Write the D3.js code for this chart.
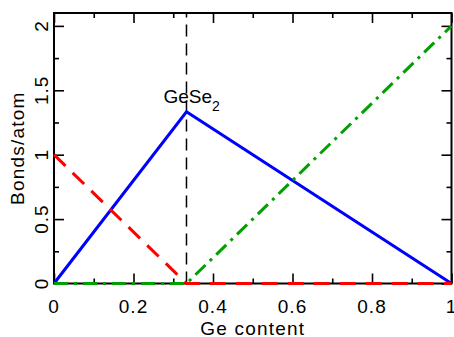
<!DOCTYPE html>
<html>
<head>
<meta charset="utf-8">
<script src="https://cdn.jsdelivr.net/npm/d3@7"></script>
<style>
  body { margin: 0; background: #fff; }
  svg { display: block; }
  text { font-family: "Liberation Sans", Arial, sans-serif; }
</style>
</head>
<body>
<svg id="chart" width="454" height="337"></svg>
<script>
// Ge content along x, bonds per atom along y
const geContent = [0, 0.3333, 1];
const blueBonds = [0, 1.3333, 0];
const redBonds = [1, 0, 0];
const greenBonds = [0, 0, 2];

const xTicks = [0, 0.2, 0.4, 0.6, 0.8, 1];
const xMinor = [0.1, 0.3, 0.5, 0.7, 0.9];
const yTicks = [0, 0.5, 1, 1.5, 2];
const yMinor = [0.25, 0.75, 1.25, 1.75];

const markerX = 0.3333;
const markerLabel = 'GeSe';
const markerSub = '2';
const markerLabelY = 1.4;

const svg = d3.select('#chart');
const width = 454;
const height = 337;
const margin = { left: 54, right: 2.5, top: 13, bottom: 53.5 };

const x = d3.scaleLinear()
  .domain([0, 1])
  .range([margin.left, width - margin.right]);
const y = d3.scaleLinear()
  .domain([0, 2.1])
  .range([height - margin.bottom, margin.top]);

// inward ticks on all four sides
function tickSet(axisFn, scale, values, size, transform) {
  svg.append('g')
    .attr('transform', transform)
    .call(axisFn(scale).tickValues(values).tickSize(-size).tickSizeOuter(0).tickFormat(''))
    .call(g => g.select('.domain').remove())
    .call(g => g.selectAll('line').attr('stroke', '#000').attr('stroke-width', 1.6));
}

const x0 = x.range()[0];
const x1 = x.range()[1];
const y0 = y.range()[0];
const y1 = y.range()[1];

tickSet(d3.axisBottom, x, xTicks, 10, `translate(0,${y0})`);
tickSet(d3.axisBottom, x, xMinor, 5, `translate(0,${y0})`);
tickSet(d3.axisTop, x, xTicks, 10, `translate(0,${y1})`);
tickSet(d3.axisTop, x, xMinor, 5, `translate(0,${y1})`);
tickSet(d3.axisLeft, y, yTicks, 10, `translate(${x0},0)`);
tickSet(d3.axisLeft, y, yMinor, 5, `translate(${x0},0)`);
tickSet(d3.axisRight, y, yTicks, 10, `translate(${x1},0)`);
tickSet(d3.axisRight, y, yMinor, 5, `translate(${x1},0)`);

svg.append('rect')
  .attr('x', x0)
  .attr('y', y1)
  .attr('width', x1 - x0)
  .attr('height', y0 - y1)
  .attr('fill', 'none')
  .attr('stroke', '#000')
  .attr('stroke-width', 2);

// tick labels
svg.append('g')
  .selectAll('text')
  .data(xTicks)
  .join('text')
  .attr('x', d => x(d))
  .attr('y', y0 + 29)
  .attr('text-anchor', 'middle')
  .attr('font-size', 19)
  .attr('letter-spacing', 1)
  .text(d => d3.format('~g')(d));

svg.append('g')
  .selectAll('text')
  .data(yTicks)
  .join('text')
  .attr('transform', d => `translate(${x0 - 6},${y(d)}) rotate(-90)`)
  .attr('text-anchor', 'middle')
  .attr('font-size', 19)
  .attr('letter-spacing', 1)
  .text(d => d3.format('~g')(d));

// axis titles
svg.append('text')
  .attr('x', (x0 + x1) / 2)
  .attr('y', 335)
  .attr('text-anchor', 'middle')
  .attr('font-size', 19)
  .attr('letter-spacing', 1.2)
  .text('Ge content');

svg.append('text')
  .attr('transform', `translate(24,${(y0 + y1) / 2}) rotate(-90)`)
  .attr('text-anchor', 'middle')
  .attr('font-size', 19)
  .attr('letter-spacing', 1.2)
  .text('Bonds/atom');

// vertical dashed marker at GeSe2
svg.append('line')
  .attr('x1', x(markerX))
  .attr('x2', x(markerX))
  .attr('y1', y0)
  .attr('y2', y1)
  .attr('stroke', '#000')
  .attr('stroke-width', 1.5)
  .attr('stroke-dasharray', '12,7');

const label = svg.append('text')
  .attr('x', x(markerX) - 23)
  .attr('y', y(markerLabelY))
  .attr('font-size', 19);
label.append('tspan').text(markerLabel);
label.append('tspan')
  .attr('font-size', 14)
  .attr('dy', 8)
  .text(markerSub);

// the three curves
const line = d3.line()
  .x(d => x(d[0]))
  .y(d => y(d[1]));

const series = [
  { values: blueBonds, color: '#0000ff', dash: null },
  { values: redBonds, color: '#ff0000', dash: '16,10' },
  { values: greenBonds, color: '#00a000', dash: '14,6,3,6' },
];

series.forEach(s => {
  svg.append('path')
    .datum(geContent.map((g, i) => [g, s.values[i]]))
    .attr('d', line)
    .attr('fill', 'none')
    .attr('stroke', s.color)
    .attr('stroke-width', 3)
    .attr('stroke-dasharray', s.dash);
});
</script>
</body>
</html>
